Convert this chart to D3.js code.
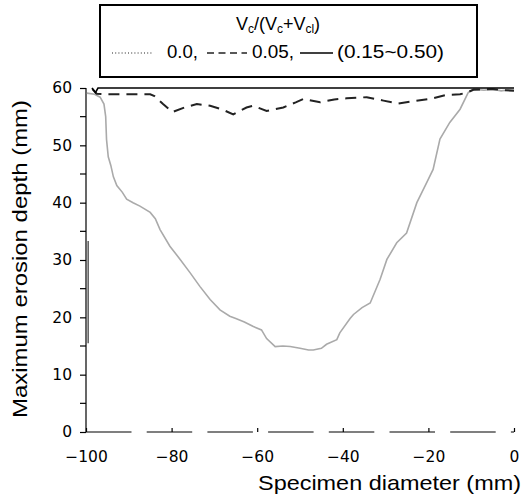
<!DOCTYPE html>
<html><head><meta charset="utf-8">
<script src="https://cdn.jsdelivr.net/npm/d3@7"></script>
<style>body{margin:0;background:#fff}svg{display:block}</style>
</head><body>
<svg id="c" width="530" height="497"></svg>
<script>
// Data
const xTicks = [-100, -80, -60, -40, -20, 0];
const yTicks = [0, 10, 20, 30, 40, 50, 60];
const yMinorTicks = [5, 15, 25, 35, 45, 55];

// Series V_c/(V_c+V_cl) = 0.0 (dotted in legend, drawn grey)
const s00x = [-99.8,-98,-96.7,-95.8,-95.4,-95.2,-94.8,-94.2,-93.6,-92.8,-91.5,-90.5,-89,-87.4,-85,-83.8,-82.7,-80.4,-78,-75.7,-73.4,-71,-68.7,-66.4,-65,-63,-60.9,-59,-57.8,-55.8,-54,-52.3,-50,-48,-46.9,-45,-43.8,-41.4,-40.7,-38.3,-37.5,-35.5,-33.6,-31.3,-29.7,-27.4,-25.1,-22.7,-20.4,-18.9,-17.3,-15,-12.6,-10.7,-9.5,-7,-5,-3,-1,0];
const s00y = [59.1,58.9,58.4,57.2,55,51,48,46.5,44.5,43,41.8,40.6,40,39.4,38.3,37.2,35.3,32.4,30.1,27.8,25.4,23.1,21.3,20.2,19.8,19.2,18.4,17.8,16.3,14.9,15.0,14.9,14.6,14.3,14.3,14.6,15.3,16.1,17.3,19.8,20.5,21.7,22.5,26.6,30.1,33,34.7,40,43.5,45.8,51.1,54,56.3,59.2,59.8,59.6,59.8,59.5,59.7,59.6];
// Series 0.05 (dashed)
const s05x = [-98.5,-97.5,-95,-90,-85,-84,-82,-79.8,-77,-74.1,-71,-68,-65.6,-62.5,-60.9,-57.8,-53.9,-51,-49.2,-45.3,-42,-39.1,-34.4,-30.5,-27,-24.3,-19.6,-15.7,-12.6,-11,-9.5,-5,-2,0];
const s05y = [59.8,59.0,58.9,58.9,58.9,58.6,57.2,55.8,56.6,57.2,56.9,56.2,55.4,56.6,56.9,56.0,56.6,57.5,58.1,57.5,58.0,58.2,58.4,57.8,57.3,57.6,58.1,58.8,58.9,59.2,59.7,59.8,59.6,59.5];
// Series (0.15~0.50) (solid)
const s15x = [-98.6,-97.8,-97.2,0];
const s15y = [60,59.2,60,60];
// short trace at the left edge
const edgeX = [-99.5,-99.5];
const edgeY = [15.5,33.3];

const svg = d3.select("#c");
const x = d3.scaleLinear().domain([-100, 0]).range([86, 514]);
const y = d3.scaleLinear().domain([0, 60]).range([432, 88]);

// y axis
const yAxis = d3.axisLeft(y).tickValues(yTicks).tickSize(6).tickPadding(8).tickFormat(d3.format("d"));
const gy = svg.append("g").attr("transform","translate(86,0)").call(yAxis);
gy.select(".domain").remove();
gy.append("line").attr("x1",0).attr("x2",0).attr("y1",y(0)).attr("y2",y(60)).attr("stroke","#000").attr("stroke-width",1.2);
gy.selectAll(".tick line").attr("stroke-width",1.2);
gy.selectAll(".tick text").attr("font-family","DejaVu Sans").attr("font-size",15.5).attr("fill","#000");
gy.selectAll(".minor").data(yMinorTicks).enter().append("line")
  .attr("x1",-6).attr("x2",0).attr("y1",d=>y(d)).attr("y2",d=>y(d)).attr("stroke","#000").attr("stroke-width",1.2);

// x axis
const xAxis = d3.axisBottom(x).tickValues(xTicks).tickSize(-4).tickPadding(19).tickFormat(d => d===0 ? "0" : "\u2212" + Math.abs(d));
const gx = svg.append("g").attr("transform","translate(0,432)").call(xAxis);
gx.select(".domain").remove();
gx.append("line").attr("x1",x(-100)).attr("x2",x(0)).attr("y1",0).attr("y2",0)
  .attr("stroke","#000").attr("stroke-width",1.2).attr("stroke-dasharray","45.5,15.2");
gx.selectAll(".tick line").attr("stroke-width",1.2);
gx.selectAll(".tick text").attr("font-family","DejaVu Sans").attr("font-size",15.5).attr("fill","#000");

// series
const line = d3.line().x(d=>x(d[0])).y(d=>y(d[1]));
const zip = (a,b) => a.map((v,i)=>[v,b[i]]);
svg.append("path").datum(zip(s00x,s00y)).attr("d",line).attr("fill","none").attr("stroke","#aaa").attr("stroke-width",1.6);
svg.append("path").datum(zip(s05x,s05y)).attr("d",line).attr("fill","none").attr("stroke","#222").attr("stroke-width",2).attr("stroke-dasharray","11,7");
svg.append("path").datum(zip(s15x,s15y)).attr("d",line).attr("fill","none").attr("stroke","#000").attr("stroke-width",1.6);
svg.append("path").datum(zip(edgeX,edgeY)).attr("d",line).attr("fill","none").attr("stroke","#333").attr("stroke-width",1.2);

// axis titles
svg.append("text").attr("x",258).attr("y",490).attr("font-family","Liberation Sans").attr("font-size",21)
  .attr("textLength",263).attr("lengthAdjust","spacingAndGlyphs").text("Specimen diameter (mm)");
svg.append("text").attr("transform","translate(27,418) rotate(-90)").attr("font-family","Liberation Sans").attr("font-size",21)
  .attr("textLength",318).attr("lengthAdjust","spacingAndGlyphs").text("Maximum erosion depth (mm)");

// legend
const lg = svg.append("g");
lg.append("rect").attr("x",100).attr("y",5).attr("width",377).attr("height",72).attr("fill","#fff").attr("stroke","#000").attr("stroke-width",2);
const t = lg.append("text").attr("x",278).attr("y",30).attr("text-anchor","middle").attr("font-family","Liberation Sans").attr("font-size",18);
t.append("tspan").text("V");
t.append("tspan").attr("font-size",12).attr("dy",3).text("c");
t.append("tspan").attr("dy",-3).text("/(V");
t.append("tspan").attr("font-size",12).attr("dy",3).text("c");
t.append("tspan").attr("dy",-3).text("+V");
t.append("tspan").attr("font-size",12).attr("dy",3).text("cl");
t.append("tspan").attr("dy",-3).text(")");
const rowY = 58;
lg.append("line").attr("x1",112).attr("x2",152).attr("y1",rowY-5).attr("y2",rowY-5).attr("stroke","#222").attr("stroke-width",1.2).attr("stroke-dasharray","1,2.2");
lg.append("line").attr("x1",207).attr("x2",247).attr("y1",rowY-5).attr("y2",rowY-5).attr("stroke","#222").attr("stroke-width",1.6).attr("stroke-dasharray","7,4.5");
lg.append("line").attr("x1",300).attr("x2",333).attr("y1",rowY-5).attr("y2",rowY-5).attr("stroke","#000").attr("stroke-width",1.6);
const lab = (x0,w,s) => lg.append("text").attr("x",x0).attr("y",rowY).attr("font-family","Liberation Sans").attr("font-size",19)
  .attr("textLength",w).attr("lengthAdjust","spacingAndGlyphs").text(s);
lab(167,31,"0.0,");
lab(252,42,"0.05,");
lab(337,107,"(0.15~0.50)");
</script>
</body></html>
